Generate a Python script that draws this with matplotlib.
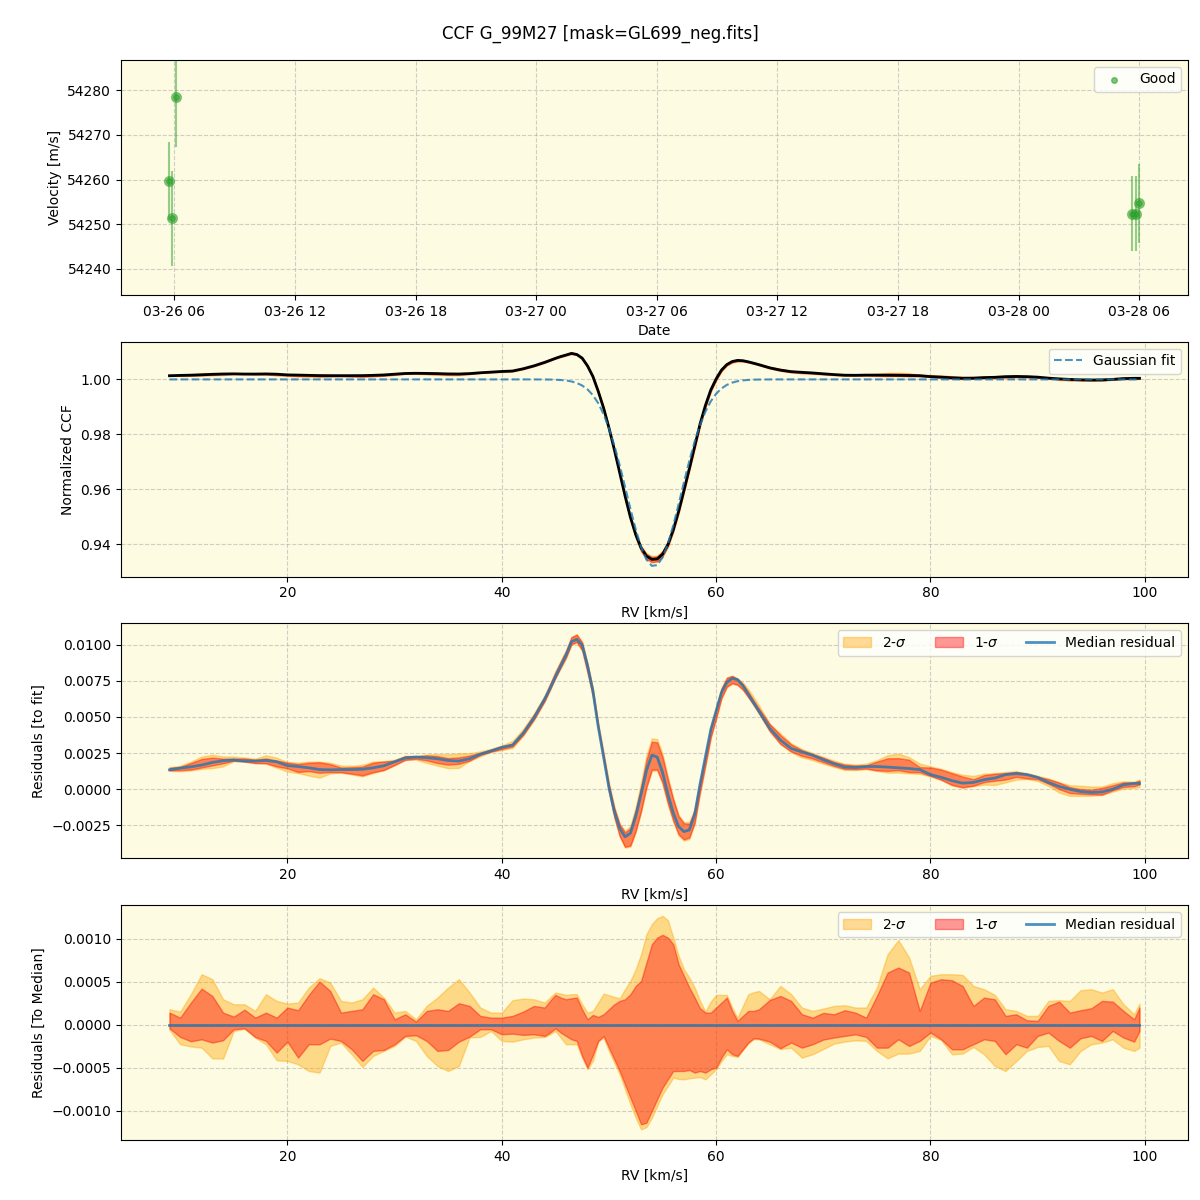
import numpy as np
import matplotlib
matplotlib.use("Agg")
import matplotlib.pyplot as plt
import matplotlib.dates as mdates
from datetime import datetime

# ---------------- data ----------------
obs_times = ["2023-03-26 05:45", "2023-03-26 05:54", "2023-03-26 06:06",
             "2023-03-28 05:38", "2023-03-28 05:51", "2023-03-28 06:01"]
obs_vel = [54259.7, 54251.3, 54278.6, 54252.4, 54252.4, 54254.7]
obs_err = [8.7, 10.6, 11.3, 8.3, 8.5, 8.9]

# RV grid [km/s]
rv = np.r_[np.arange(9, 44), np.arange(44, 64.5, 0.5), np.arange(65, 100), 99.5]

# Gaussian fit parameters
fit_center = 54.2
fit_depth = 0.068
fit_sigma = 2.56

# median residual to the fit (x 1e-3)
med_resid_e3 = [
    1.34, 1.46, 1.55, 1.67, 1.85, 1.97, 2.02, 1.95, 1.95, 1.99,
    1.90, 1.64, 1.57, 1.48, 1.36, 1.34, 1.36, 1.36, 1.38, 1.48,
    1.62, 1.90, 2.16, 2.23, 2.18, 2.11, 1.99, 1.95, 2.11, 2.42,
    2.65, 2.89, 3.05, 3.87, 4.93,
    6.22, 6.97, 7.75, 8.52, 9.27, 10.20, 10.37, 9.97, 8.57, 6.81,
    4.34, 2.23, 0.12, -1.53, -2.70, -3.29, -3.05, -1.88, -0.35, 1.29,
    2.35, 2.23, 1.17, -0.35, -1.64, -2.58, -2.93, -2.82, -1.76, 0.35,
    2.23, 4.11, 5.40, 6.69, 7.39, 7.67, 7.58, 7.16, 6.57, 5.98,
    5.40,
    4.22, 3.40, 2.82, 2.58, 2.35, 2.04, 1.76, 1.53, 1.50, 1.57,
    1.57, 1.53, 1.48, 1.43, 1.36, 1.01, 0.82, 0.59, 0.42, 0.47,
    0.66, 0.77, 1.01, 1.08, 1.01, 0.82, 0.47, 0.19, 0.00, -0.16,
    -0.23, -0.19, 0.00, 0.31, 0.40, 0.40]

# residual envelopes relative to the median (x 1e-4)
hi2_e4 = [
    1.82, 1.55, 3.57, 5.89, 5.31, 2.98, 2.40, 2.40, 1.63, 3.57,
    2.79, 2.48, 2.60, 4.34, 5.43, 4.92, 2.79, 2.60, 2.98, 4.34,
    3.18, 1.43, 1.63, 0.66, 2.21, 3.18, 4.34, 5.31, 3.76, 2.02,
    1.43, 1.43, 2.87, 3.06, 2.98,
    2.60, 3.18, 3.76, 3.64, 3.49, 3.57, 3.57, 2.40, 1.43, 1.63,
    2.60, 3.64, 3.45, 3.26, 3.10, 4.15, 5.12, 6.47, 8.22, 10.54,
    11.71, 12.40, 12.67, 12.17, 10.15, 8.03, 6.47, 5.50, 4.34, 2.79,
    1.55, 2.71, 3.49, 3.49, 3.49, 2.02, 0.85, 2.21, 3.57, 3.80,
    3.95,
    2.98, 4.53, 3.57, 2.02, 1.63, 1.90, 2.21, 2.29, 2.02, 2.02,
    4.34, 8.22, 9.85, 7.83, 4.15, 5.70, 5.89, 5.89, 5.81, 4.53,
    4.15, 3.49, 1.82, 1.63, 1.05, 1.05, 2.79, 2.87, 2.79, 4.03,
    4.15, 3.76, 4.15, 2.40, 1.24, 2.48]
hi1_e4 = [
    1.43, 0.85, 2.60, 4.22, 3.37, 1.43, 0.97, 1.78, 0.85, 1.43,
    0.85, 2.02, 1.71, 3.49, 5.04, 3.95, 1.43, 1.63, 1.82, 3.57,
    2.98, 0.66, 1.24, 0.39, 1.63, 1.82, 1.63, 2.52, 2.21, 1.05,
    0.85, 0.85, 1.05, 1.55, 2.21,
    2.02, 2.79, 3.49, 3.18, 2.98, 3.10, 3.18, 1.82, 0.66, 1.16,
    0.93, 1.24, 1.82, 2.40, 2.79, 2.98, 3.57, 4.53, 5.12, 7.25,
    9.38, 10.15, 10.47, 10.15, 9.38, 7.05, 5.70, 4.34, 3.18, 1.94,
    1.43, 1.43, 2.02, 2.60, 3.18, 1.63, 0.47, 1.05, 1.63, 1.63,
    1.82,
    2.90, 3.37, 2.79, 1.24, 0.85, 1.40, 1.24, 1.71, 1.43, 0.85,
    3.37, 6.09, 6.67, 6.09, 1.63, 4.92, 5.31, 5.19, 4.53, 2.21,
    3.18, 2.98, 1.05, 1.24, 0.54, 0.47, 2.21, 2.71, 1.43, 1.71,
    1.94, 2.79, 2.71, 1.63, 0.66, 2.02]
lo1_e4 = [
    -0.39, -1.40, -1.90, -1.67, -2.05, -1.78, -0.50, -0.39, -1.40, -1.86,
    -3.22, -1.94, -3.80, -2.25, -2.25, -1.59, -1.86, -2.83, -4.19, -3.02,
    -2.91, -2.25, -1.28, -1.20, -1.86, -3.02, -2.91, -1.94, -1.36, -0.50,
    -0.50, -1.09, -1.01, -1.16, -1.09,
    -1.28, -0.89, -0.39, -0.89, -1.28, -1.67, -1.86, -3.60, -4.96, -3.49,
    -1.86, -1.28, -2.64, -3.99, -5.35, -6.90, -8.45, -10.0, -11.55, -11.36,
    -10.0, -8.64, -7.29, -6.32, -5.35, -5.35, -5.35, -5.23, -5.54, -5.35,
    -5.54, -5.15, -4.96, -3.80, -2.83, -3.41, -3.60, -2.83, -2.05, -1.55,
    -1.59,
    -1.94, -2.71, -2.05, -2.64, -2.25, -1.70, -1.47, -1.28, -1.09, -1.40,
    -2.64, -2.64, -1.67, -2.44, -1.86, -0.89, -1.67, -2.83, -2.83, -2.25,
    -1.67, -1.86, -3.41, -2.25, -2.64, -1.28, -0.89, -1.86, -2.64, -1.55,
    -1.28, -1.86, -0.70, -1.47, -1.94, -0.70]
lo2_e4 = [
    -0.58, -2.25, -2.50, -2.64, -3.88, -3.91, -0.70, -0.45, -1.47, -2.25,
    -4.11, -4.19, -4.57, -5.35, -5.54, -2.44, -2.05, -3.41, -4.88, -3.60,
    -3.02, -2.44, -1.35, -1.86, -3.60, -4.77, -5.35, -4.77, -1.45, -1.40,
    -0.70, -1.86, -1.94, -1.67, -1.47,
    -1.40, -1.09, -0.70, -1.47, -2.25, -2.25, -2.25, -3.80, -5.15, -4.19,
    -1.94, -1.47, -3.02, -4.38, -5.74, -7.48, -9.22, -10.8, -12.13, -11.86,
    -10.8, -9.42, -8.06, -7.09, -6.12, -6.28, -6.32, -6.20, -6.12, -6.05,
    -6.32, -5.74, -5.15, -4.19, -3.41, -3.60, -3.72, -2.90, -2.15, -1.65,
    -1.67,
    -2.25, -2.80, -2.64, -3.80, -3.41, -2.80, -2.17, -1.94, -1.78, -1.86,
    -3.02, -3.88, -3.33, -3.33, -3.02, -1.28, -1.75, -3.41, -3.33, -2.56,
    -3.41, -4.77, -5.35, -4.19, -3.02, -2.56, -2.44, -4.19, -4.57, -3.02,
    -2.25, -2.05, -1.67, -2.64, -3.02, -2.64]

# ---------------- derived ----------------
t = [datetime.strptime(s, "%Y-%m-%d %H:%M") for s in obs_times]
med = np.array(med_resid_e3) * 1e-3
hi2 = np.array(hi2_e4) * 1e-4
hi1 = np.array(hi1_e4) * 1e-4
lo1 = np.array(lo1_e4) * 1e-4
lo2 = np.array(lo2_e4) * 1e-4
fit = 1.0 - fit_depth * np.exp(-0.5 * ((rv - fit_center) / fit_sigma) ** 2)
ccf = fit + med

BG = '#fdfbe1'
LINE_BLUE = 'C0'

fig, axes = plt.subplots(4, 1, figsize=(12, 12), dpi=100)
fig.subplots_adjust(left=0.1008, right=0.99, top=0.95, bottom=0.05, hspace=0.2)
fig.suptitle("CCF G_99M27 [mask=GL699_neg.fits]", fontsize=12, y=0.9795)

for ax in axes:
    ax.set_facecolor(BG)
    ax.grid(True, linestyle='--', color='#b0b0b0', alpha=0.6)
    ax.set_axisbelow(True)

# Panel 1: velocities
ax = axes[0]
ax.errorbar(t, obs_vel, yerr=obs_err, fmt='o', color='C2', alpha=0.5, ms=7, capsize=0)
ax.scatter(t, obs_vel, s=16, color='C2', alpha=0.6, label='Good', zorder=3)
ax.set_ylim(54234.2, 54286.8)
ax.xaxis.set_major_locator(mdates.HourLocator(byhour=[0, 6, 12, 18]))
ax.xaxis.set_major_formatter(mdates.DateFormatter('%m-%d %H'))
ax.set_xlabel("Date")
ax.set_ylabel("Velocity [m/s]")
ax.legend(loc='upper right')

# Panel 2: CCF
ax = axes[1]
ax.fill_between(rv, ccf + lo2, ccf + hi2, color='orange', alpha=0.4)
ax.fill_between(rv, ccf + lo1, ccf + hi1, color='red', alpha=0.4)
ax.plot(rv, ccf, color='black', lw=2)
ax.plot(rv, fit, color=LINE_BLUE, ls='--', lw=1.5, alpha=0.8, label='Gaussian fit')
ax.set_xlabel("RV [km/s]")
ax.set_ylabel("Normalized CCF")
ax.legend(loc='upper right')

# Panel 3: residuals to fit
ax = axes[2]
ax.fill_between(rv, med + lo2, med + hi2, color='orange', alpha=0.4, label='2-$\\sigma$')
ax.fill_between(rv, med + lo1, med + hi1, color='red', alpha=0.4, label='1-$\\sigma$')
ax.plot(rv, med, color=LINE_BLUE, lw=2, alpha=0.8, label='Median residual')
ax.set_xlabel("RV [km/s]")
ax.set_ylabel("Residuals [to fit]")
ax.legend(loc='upper right', ncol=3)

# Panel 4: residuals to median
ax = axes[3]
zero = np.zeros_like(med)
ax.fill_between(rv, lo2, hi2, color='orange', alpha=0.4, label='2-$\\sigma$')
ax.fill_between(rv, lo1, hi1, color='red', alpha=0.4, label='1-$\\sigma$')
ax.plot(rv, zero, color=LINE_BLUE, lw=2, alpha=0.8, label='Median residual')
ax.set_xlabel("RV [km/s]")
ax.set_ylabel("Residuals [To Median]")
ax.legend(loc='upper right', ncol=3)

fig.savefig("out.png", dpi=100)
